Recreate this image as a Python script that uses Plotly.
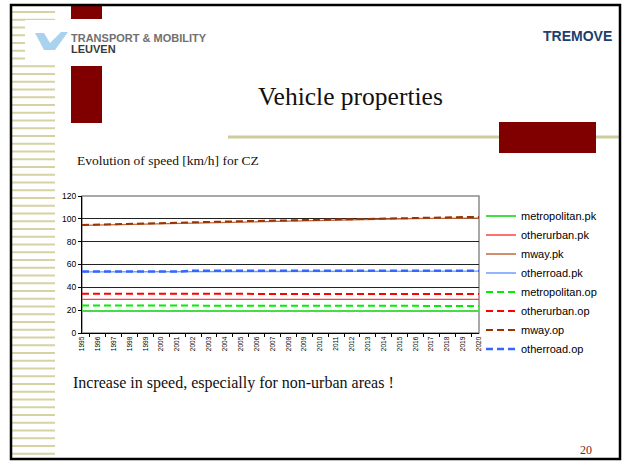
import plotly.graph_objects as go

# --- data ---
years = [str(y) for y in range(1995, 2021)]

metropolitan_pk = [19.2] * 26
otherurban_pk = [29.5] * 26
mway_pk = [94.2, 94.5, 94.8, 95.1, 95.4, 95.6, 95.8, 96.0, 96.3, 96.6, 96.9, 97.3, 97.7,
           98.1, 98.5, 98.9, 99.3, 99.6, 99.9, 100.1, 100.2, 100.3, 100.4, 100.5, 100.6, 100.7]
otherroad_pk = [53.6] * 7 + [53.9] * 10 + [54.2] * 9
metropolitan_op = [24.1] * 19 + [23.7] * 7
otherurban_op = [34.4] * 13 + [34.1] * 13
mway_op = [94.6, 95.0, 95.4, 95.8, 96.1, 96.4, 96.7, 97.0, 97.3, 97.6, 97.9, 98.2, 98.5,
           98.8, 99.1, 99.3, 99.5, 99.7, 99.9, 100.3, 100.6, 100.8, 101.0, 101.2, 101.5, 101.6]
otherroad_op = [53.8] * 7 + [54.5] * 19

series = [
    ("metropolitan.pk", metropolitan_pk, "#44dd44", 2, "solid"),
    ("otherurban.pk", otherurban_pk, "#ff4040", 1.3, "solid"),
    ("mway.pk", mway_pk, "#c0683f", 1.3, "solid"),
    ("otherroad.pk", otherroad_pk, "#6f9cff", 1.3, "solid"),
    ("metropolitan.op", metropolitan_op, "#00ee00", 2, "7px,4px"),
    ("otherurban.op", otherurban_op, "#ff0000", 2, "7px,4px"),
    ("mway.op", mway_op, "#993300", 2, "7px,4px"),
    ("otherroad.op", otherroad_op, "#3366ff", 2.5, "7px,4px"),
]

W, H = 628, 463
L, T, R, B = 82, 196, 479, 333  # plot area in pixels


def px(x):
    return (x - L) / (R - L)


def py(y):
    return 1 - (y - T) / (B - T)


fig = go.Figure()
for name, vals, color, width, dash in series:
    fig.add_trace(go.Scatter(
        x=years, y=vals, name=name, mode="lines",
        line=dict(color=color, width=width, dash=dash),
    ))

shapes = []
# left striped band
y = 12.0
while y < 459:
    shapes.append(dict(type="line", xref="paper", yref="paper",
                       x0=px(12), x1=px(55), y0=py(y), y1=py(y),
                       line=dict(color="#d6d2a4", width=2)))
    y += 7.75
# logo white background covering the stripes
shapes.append(dict(type="rect", xref="paper", yref="paper",
                   x0=px(25), x1=px(200), y0=py(20), y1=py(64),
                   fillcolor="white", line=dict(width=0)))
# logo mark
shapes.append(dict(type="path", xref="paper", yref="paper",
                   path="M {} {} L {} {} L {} {} L {} {} L {} {} L {} {} L {} {} Z".format(
                       px(35), py(33), px(44), py(33), px(50), py(43), px(61), py(32),
                       px(68), py(32), px(55), py(50), px(44), py(50)),
                   fillcolor="#a9d2ee", line=dict(width=0)))
# olive rule under the title
shapes.append(dict(type="line", xref="paper", yref="paper",
                   x0=px(228), x1=px(620), y0=py(137), y1=py(137),
                   line=dict(color="#cfcb9b", width=3)))
# dark red blocks
for x0, y0, x1, y1 in [(71, 5, 102, 19), (71, 66, 102, 123), (499, 122, 596, 153)]:
    shapes.append(dict(type="rect", xref="paper", yref="paper",
                       x0=px(x0), x1=px(x1), y0=py(y0), y1=py(y1),
                       fillcolor="#800000", line=dict(width=0)))
# slide border
shapes.append(dict(type="rect", xref="paper", yref="paper",
                   x0=px(11), x1=px(620), y0=py(5), y1=py(459),
                   line=dict(color="black", width=2.5)))
# chart frame (top/right grey)
shapes.append(dict(type="rect", xref="x domain", yref="y domain",
                   x0=0, x1=1, y0=0, y1=1, layer="below",
                   line=dict(color="#8c8c8c", width=1.5)))

serif = "Liberation Serif, Times New Roman, serif"
sans = "Liberation Sans, Arial, sans-serif"
narrow = "Liberation Sans Narrow, Arial Narrow, " + sans
annotations = [
    dict(text="<b>TRANSPORT & MOBILITY</b>", x=px(69), y=py(38), xanchor="left", yanchor="middle",
         font=dict(family=narrow, size=11, color="#707070")),
    dict(text="<b>LEUVEN</b>", x=px(69), y=py(48.5), xanchor="left", yanchor="middle",
         font=dict(family=narrow, size=11, color="#3a3a3a")),
    dict(text="<b>TREMOVE</b>", x=px(614), y=py(36), xanchor="right", yanchor="middle",
         font=dict(family=sans, size=14, color="#1c3f6e")),
    dict(text="Vehicle properties", x=px(350), y=py(96), xanchor="center", yanchor="middle",
         font=dict(family=serif, size=25.5, color="#111")),
    dict(text="Evolution of speed [km/h] for CZ", x=px(75), y=py(160), xanchor="left", yanchor="middle",
         font=dict(family=serif, size=13.5, color="#111")),
    dict(text="Increase in speed, especially for non-urban areas !", x=px(71), y=py(383),
         xanchor="left", yanchor="middle", font=dict(family=serif, size=16, color="#111")),
    dict(text="20", x=px(594), y=py(450), xanchor="right", yanchor="middle",
         font=dict(family=serif, size=12, color="#8b1a1a")),
]
for a in annotations:
    a.update(xref="paper", yref="paper", showarrow=False)

fig.update_layout(
    width=W, height=H,
    margin=dict(l=L, r=W - R, t=T, b=H - B, pad=0, autoexpand=False),
    paper_bgcolor="white", plot_bgcolor="white",
    showlegend=True,
    legend=dict(
        xref="container", yref="container",
        x=481 / W, y=1 - 201.5 / H, xanchor="left", yanchor="top",
        font=dict(family=sans, size=11, color="black"),
        bgcolor="rgba(0,0,0,0)", borderwidth=0,
    ),
    xaxis=dict(
        type="category", tickson="boundaries", ticks="outside", ticklen=3,
        tickcolor="black", tickangle=-90, showgrid=False,
        showline=True, linecolor="black", linewidth=1.2,
        tickfont=dict(family=sans, size=6.5, color="black"),
    ),
    yaxis=dict(
        range=[0, 120], dtick=20, ticks="outside", ticklen=3, tickcolor="black",
        showgrid=True, gridcolor="#222", gridwidth=1, zeroline=False,
        showline=True, linecolor="black", linewidth=1.2,
        tickfont=dict(family=sans, size=8.5, color="black"),
    ),
    shapes=shapes,
    annotations=annotations,
)

# page without the default body margin so the figure fills the window
fig.write_html(
    "out.html",
    config={"displayModeBar": False},
    post_script="document.body.style.margin='0';document.body.style.overflow='hidden';",
)
